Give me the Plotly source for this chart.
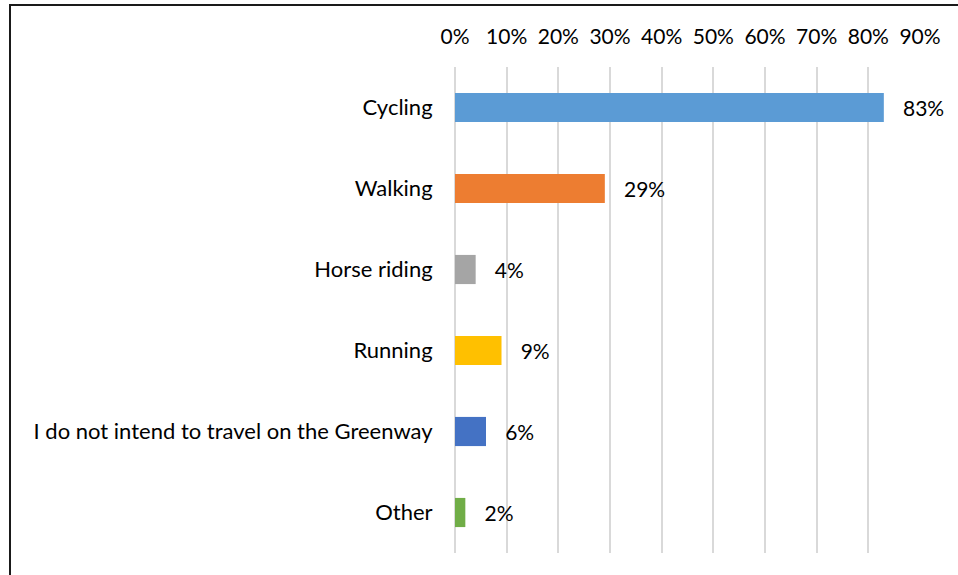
import plotly.graph_objects as go

categories = ["Cycling", "Walking", "Horse riding", "Running",
              "I do not intend to travel on the Greenway", "Other"]
values = [0.83, 0.29, 0.04, 0.09, 0.06, 0.02]
colors = ["#5B9BD5", "#ED7D31", "#A5A5A5", "#FFC000", "#4472C4", "#70AD47"]
tick_vals = [0, 0.1, 0.2, 0.3, 0.4, 0.5, 0.6, 0.7, 0.8, 0.9]
tick_text = ["0%", "10%", "20%", "30%", "40%", "50%", "60%", "70%", "80%", "90%"]

FONT = "Lato"
W, H = 958, 575
L, R, T, B = 455, 38, 67, 22

fig = go.Figure(go.Bar(
    y=categories, x=values, orientation="h",
    marker=dict(color=colors, line=dict(width=0)),
    text=["\u00a0\u00a0\u00a0" + f"{round(v*100)}%" for v in values],
    textposition="outside", cliponaxis=False, constraintext="none",
    textfont=dict(family=FONT, size=21, color="#000000"),
    hoverinfo="skip",
))

pw = W - L - R
ph = H - T - B
def px(xp):
    return (xp - L) / pw
def py(yp):
    return (H - B - yp) / ph

fig.update_layout(
    width=W, height=H,
    margin=dict(l=L, r=R, t=T, b=B),
    paper_bgcolor="white", plot_bgcolor="white",
    bargap=0.64,
    showlegend=False,
    xaxis=dict(
        side="top", range=[0, 0.9], tickvals=tick_vals, ticktext=tick_text,
        showgrid=True, gridcolor="#D9D9D9", gridwidth=2,
        zeroline=True, zerolinecolor="#D9D9D9", zerolinewidth=2,
        showline=False,
        ticks="outside", ticklen=14, tickcolor="rgba(0,0,0,0)",
        tickfont=dict(family=FONT, size=21, color="#000000"),
        fixedrange=True,
    ),
    yaxis=dict(
        categoryorder="array", categoryarray=categories[::-1],
        showgrid=False, zeroline=False, showline=False,
        ticks="outside", ticklen=17, tickcolor="rgba(0,0,0,0)",
        tickfont=dict(family=FONT, size=22, color="#000000"),
        fixedrange=True,
    ),
    shapes=[
        dict(type="line", xref="paper", yref="paper",
             x0=px(9), x1=px(960), y0=py(5), y1=py(5),
             line=dict(color="#1a1a1a", width=2)),
        dict(type="line", xref="paper", yref="paper",
             x0=px(10), x1=px(10), y0=py(4), y1=py(580),
             line=dict(color="#1a1a1a", width=2)),
    ],
)

fig.write_html(
    "out.html",
    config={"displayModeBar": False},
    post_script="document.body.style.margin='0';document.body.style.overflow='hidden';",
)
